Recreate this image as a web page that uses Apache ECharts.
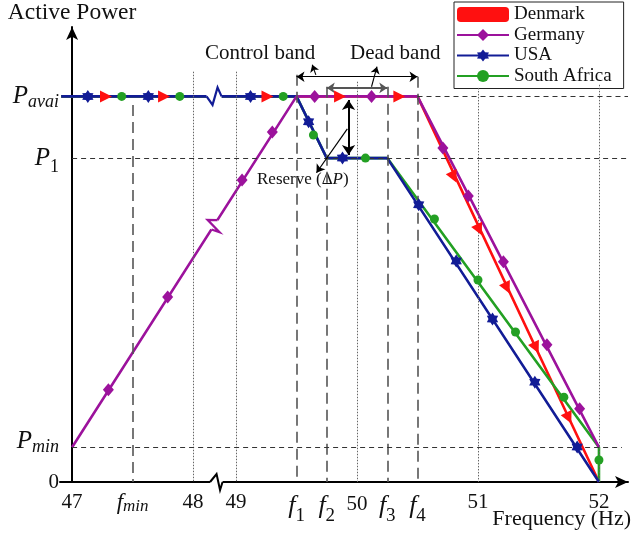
<!DOCTYPE html>
<html>
<head>
<meta charset="utf-8">
<script src="https://cdn.jsdelivr.net/npm/echarts@6/dist/echarts.min.js"></script>
</head>
<body style="margin:0">
<div id="chart" style="width:634px;height:540px"></div>
<script>
const SERIF = '"Liberation Serif", "Times New Roman", serif';

// curves: [frequency (Hz), active power (p.u. of P_avai)]
const denmarkLine = [[46.91, 1], [50.5, 1], [52, 0]];
const germanyLine = [[47, 0.09], [49.5, 1], [50.5, 1], [52, 0.09]];
const usaLine = [[46.91, 1], [49.5, 1], [49.75, 0.84], [50.25, 0.84], [52, 0]];
const southAfricaLine = [[46.91, 1], [49.5, 1], [49.75, 0.84], [50.25, 0.84], [52, 0.09], [52, 0]];

// marker positions
const denmarkMarks = [[47.28, 1], [47.76, 1], [49.26, 1], [49.86, 1], [50.35, 1],
  [50.80, 0.791], [51.01, 0.654], [51.24, 0.503], [51.48, 0.348], [51.75, 0.166]];
const germanyMarks = [[47.30, 0.239], [47.79, 0.480], [49.05, 0.783], [49.30, 0.908], [49.65, 1], [50.12, 1],
  [50.71, 0.866], [50.92, 0.742], [51.21, 0.571], [51.57, 0.356], [51.84, 0.190]];
const usaMarks = [[47.13, 1], [47.63, 1], [49.12, 1], [49.60, 0.934], [49.88, 0.84],
  [50.51, 0.719], [50.82, 0.573], [51.12, 0.423], [51.47, 0.259], [51.82, 0.091]];
const southAfricaMarks = [[47.41, 1], [47.89, 1], [49.39, 1], [49.64, 0.900], [50.07, 0.84],
  [50.64, 0.682], [51.0, 0.524], [51.31, 0.389], [51.71, 0.220], [52, 0.057]];

// axis ticks
const xTickFreqs = [47, 47.5, 48, 49, 49.5, 49.75, 50, 50.25, 50.5, 51, 52];
const xTickLabels = ['{n|47}', '{f|f}{mn|min}', '{n|48}', '{n|49}', '{F|f}{d|1}', '{F|f}{d|2}',
  '{n50|50}', '{F|f}{d|3}', '{F|f}{d|4}', '{n|51}', '{n|52}'];
const yTickValues = [0, 0.09, 0.84, 1];
const yTickLabels = ['{n|0}', '{Pm|P}{mn|min}', '{P|P}{one|1}', '{P|P}{a|avai}'];

// reference lines
const dashedV = [[47.5, 0.978], [49.5, 1.056], [49.75, 1.025], [50.25, 1.025], [50.5, 1.051]];
const dottedV = [[48, 1.064], [49, 1.064], [50, 1.038], [51, 1.022], [52, 1.03]];
const dashedH = [[0.84, 47, 52.24], [0.09, 47, 52.19], [1, 50.5, 52.24]];

// axis breaks between 48 and 49 Hz: [freq, power, kind]
const breakMarks = [[48.5, 1, 0], [48.5, 0, 1], [48.5, 0.667, 2]];

// the 48..49 Hz range is squeezed on the drawing
function toU(f) {
  if (f <= 48) return f - 47;
  if (f < 49) return 1 + (f - 48) * 0.355;
  return f - 47.645;
}

const NAVY = '#121c96', PURPLE = '#9c129c', GREEN = '#23a023', RED = '#ff1010';

const star6 = (function () {
  let d = '';
  for (let k = 0; k < 12; k++) {
    const a = Math.PI / 2 + k * Math.PI / 6;
    const r = k % 2 === 0 ? 10 : 6.2;
    d += (k === 0 ? 'M' : 'L') + (10 + r * Math.cos(a)).toFixed(2) + ',' + (10 - r * Math.sin(a)).toFixed(2) + ' ';
  }
  return 'path://' + d + 'Z';
})();

const zigzags = [
  { pts: [[-8, 0], [-2, 8.5], [3, -9], [7, 0]], color: NAVY, width: 2.2 },
  { pts: [[-4.5, 0], [2, -8], [5.5, 8], [8, 0]], color: '#000', width: 2 },
  { pts: [[-3, 4.7], [5, 7.5], [-7, -5], [3, -4.7]], color: PURPLE, width: 2.2 }
];

function lineSeries(name, pts, symbol, color) {
  return {
    name: name, type: 'line', z: 2, symbol: symbol, symbolSize: 10, showSymbol: false,
    symbolKeepAspect: true,
    lineStyle: { color: color, width: 2.6 }, itemStyle: { color: color },
    data: pts.map(d => [toU(d[0]), d[1]]),
    silent: true, animation: false
  };
}

function markerSeries(name, marks, symbol, size, color, rotate) {
  return {
    name: name, type: 'scatter', z: 5, symbol: symbol, symbolSize: size, symbolKeepAspect: true,
    itemStyle: { color: color, opacity: 1 },
    data: marks.map(d => ({ value: [toU(d[0]), d[1]], symbolRotate: rotate ? rotate(d) : 0 })),
    silent: true, animation: false
  };
}

function vline(f, top, style) {
  return [{ coord: [toU(f), top], lineStyle: style }, { coord: [toU(f), 0] }];
}

const longDash = { color: '#555', width: 1.6, type: [11, 6] };
const dots = { color: '#666', width: 1, type: [1.5, 1.5] };
const shortDash = { color: '#333', width: 1.2, type: [5, 4] };

const refLines = []
  .concat(dashedV.map(d => vline(d[0], d[1], longDash)))
  .concat(dottedV.map(d => vline(d[0], d[1], dots)))
  .concat(dashedH.map(d => [{ coord: [toU(d[1]), d[0]], lineStyle: shortDash }, { coord: [toU(d[2]), d[0]] }]));

function arrow(a, b, style, startArrow, size) {
  return [
    { coord: [toU(a[0]), a[1]], symbol: startArrow ? 'arrow' : 'none', symbolSize: size, lineStyle: style },
    { coord: [toU(b[0]), b[1]], symbol: 'arrow', symbolSize: size }
  ];
}

const arrows = [
  arrow([49.5, 1.051], [50.5, 1.051], { color: '#000', width: 1.2, type: 'solid' }, true, 8),
  arrow([49.75, 1.022], [50.25, 1.022], { color: '#555', width: 2, type: 'solid' }, true, 8),
  arrow([49.66, 1.056], [49.63, 1.082], { color: '#000', width: 1.1, type: 'solid' }, false, 7),
  arrow([50.12, 1.025], [50.165, 1.077], { color: '#000', width: 1.1, type: 'solid' }, false, 7),
  arrow([49.93, 0.991], [49.93, 0.848], { color: '#000', width: 2, type: 'solid' }, true, 10),
  arrow([49.92, 0.916], [49.665, 0.802], { color: '#000', width: 1.2, type: 'solid' }, false, 8)
];

const chart = echarts.init(document.getElementById('chart'));

const xTickU = xTickFreqs.map(toU);

chart.setOption({
  backgroundColor: '#fff',
  animation: false,
  grid: { left: 60, right: 6, top: 27, bottom: 58, containLabel: false, outerBoundsMode: 'none' },
  legend: {
    orient: 'vertical', left: 454, top: 2,
    padding: [3, 12, 3, 2], itemGap: 1.5, itemWidth: 52, itemHeight: 15,
    backgroundColor: '#fff', borderColor: '#222', borderWidth: 1, borderRadius: 0,
    selectedMode: false,
    textStyle: { fontSize: 19, fontFamily: SERIF, color: '#111', lineHeight: 18 },
    data: [{ name: 'Denmark', icon: 'roundRect' }, 'Germany', 'USA', 'South Africa']
  },
  xAxis: {
    type: 'value', min: -0.1, max: 4.595,
    axisLine: { show: true, onZero: false, symbol: ['none', 'arrow'], symbolSize: [9, 13], lineStyle: { color: '#000', width: 2 } },
    axisTick: { show: false },
    splitLine: { show: false },
    axisLabel: {
      customValues: xTickU, margin: 8, hideOverlap: false, color: '#111',
      formatter: function (v) {
        const i = xTickU.findIndex(u => Math.abs(u - v) < 1e-6);
        return i >= 0 ? xTickLabels[i] : '';
      },
      rich: {
        n: { fontSize: 21, fontFamily: SERIF, color: '#111', lineHeight: 22, padding: [2, 0, 0, 0] },
        n50: { fontSize: 21, fontFamily: SERIF, color: '#111', lineHeight: 22, padding: [6, 0, 0, 0] },
        f: { fontSize: 23, fontFamily: SERIF, fontStyle: 'italic', color: '#111', lineHeight: 24, padding: [2, 0, 0, 0] },
        mn: { fontSize: 17, fontFamily: SERIF, fontStyle: 'italic', color: '#111', lineHeight: 16, padding: [10, 0, 0, 0] },
        F: { fontSize: 26, fontFamily: SERIF, fontStyle: 'italic', color: '#111', lineHeight: 28, padding: [4, 0, 0, 0] },
        d: { fontSize: 19, fontFamily: SERIF, color: '#111', lineHeight: 18, padding: [24, 0, 0, 0] }
      }
    }
  },
  yAxis: {
    type: 'value', min: 0, max: 1.18,
    name: 'Active Power', nameLocation: 'end', nameGap: 2,
    nameTextStyle: { fontSize: 23.5, fontFamily: SERIF, color: '#111' },
    axisLine: { show: true, onZero: true, symbol: ['none', 'arrow'], symbolSize: [9, 13], lineStyle: { color: '#000', width: 2 } },
    axisTick: { show: false },
    splitLine: { show: false },
    axisLabel: {
      customValues: yTickValues, margin: 1, hideOverlap: false, color: '#111',
      formatter: function (v) {
        const i = yTickValues.findIndex(u => Math.abs(u - v) < 1e-6);
        return i >= 0 ? yTickLabels[i] : '';
      },
      rich: {
        n: { fontSize: 21, fontFamily: SERIF, color: '#111' },
        P: { fontSize: 25, fontFamily: SERIF, fontStyle: 'italic', color: '#111', lineHeight: 28 },
        Pm: { fontSize: 25, fontFamily: SERIF, fontStyle: 'italic', color: '#111', lineHeight: 28, padding: [0, 0, 12, 0] },
        a: { fontSize: 18, fontFamily: SERIF, fontStyle: 'italic', color: '#111', lineHeight: 18, padding: [12, 0, 0, 0] },
        one: { fontSize: 18, fontFamily: SERIF, color: '#111', lineHeight: 18, padding: [18, 0, 0, 0] },
        mn: { fontSize: 18, fontFamily: SERIF, fontStyle: 'italic', color: '#111', lineHeight: 18 }
      }
    }
  },
  graphic: [
    { type: 'text', left: 205, top: 43, silent: true, style: { text: 'Control band', fontSize: 21, fontFamily: SERIF, fill: '#111' } },
    { type: 'text', left: 350, top: 43, silent: true, style: { text: 'Dead band', fontSize: 21, fontFamily: SERIF, fill: '#111' } },
    { type: 'text', right: 3, top: 508, silent: true, style: { text: 'Frequency (Hz)', fontSize: 22, fontFamily: SERIF, fill: '#111' } },
    {
      type: 'text', left: 257, top: 171, silent: true,
      style: {
        text: 'Reserve (Δ{i|P})', fontSize: 17, fontFamily: SERIF, fill: '#111',
        rich: { i: { fontSize: 17, fontFamily: SERIF, fontStyle: 'italic', fill: '#111' } }
      }
    }
  ],
  series: [
    {
      type: 'line', data: [], z: 1, silent: true,
      markLine: { silent: true, animation: false, symbol: 'none', label: { show: false }, emphasis: { disabled: true }, data: refLines }
    },
    {
      type: 'line', data: [], z: 3, silent: true,
      markLine: { silent: true, animation: false, label: { show: false }, emphasis: { disabled: true }, data: arrows }
    },
    lineSeries('Denmark', denmarkLine, 'triangle', RED),
    lineSeries('South Africa', southAfricaLine, 'circle', GREEN),
    lineSeries('USA', usaLine, star6, NAVY),
    lineSeries('Germany', germanyLine, 'diamond', PURPLE),
    {
      type: 'custom', z: 4, silent: true,
      data: breakMarks.map(d => [toU(d[0]), d[1], d[2]]),
      encode: { x: 0, y: 1 },
      renderItem: function (params, api) {
        const c = api.coord([api.value(0), api.value(1)]);
        const zz = zigzags[api.value(2)];
        const pts = zz.pts.map(p => [c[0] + p[0], c[1] + p[1]]);
        const a = pts[0], b = pts[pts.length - 1];
        return {
          type: 'group', children: [
            { type: 'line', shape: { x1: a[0], y1: a[1], x2: b[0], y2: b[1] }, style: { stroke: '#fff', lineWidth: 5 } },
            { type: 'polyline', shape: { points: pts }, style: { stroke: zz.color, lineWidth: zz.width, fill: null } }
          ]
        };
      }
    },
    markerSeries('Denmark', denmarkMarks, 'triangle', 12, RED, d => (d[1] === 1 ? -90 : -154.6)),
    markerSeries('Germany', germanyMarks, 'diamond', [11, 13], PURPLE),
    markerSeries('USA', usaMarks, star6, 13, NAVY),
    markerSeries('South Africa', southAfricaMarks, 'circle', 9, GREEN)
  ]
});
</script>
</body>
</html>
